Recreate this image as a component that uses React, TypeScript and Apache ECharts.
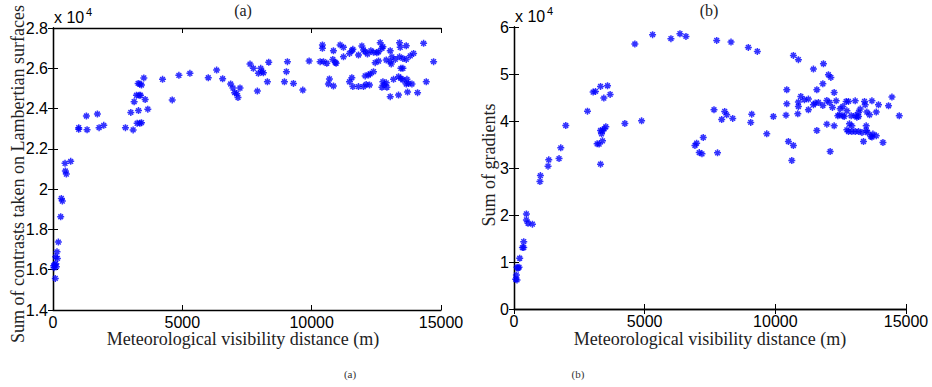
import React, { useEffect, useRef } from "react";
import * as echarts from "echarts";

// Panel (a): sum of contrasts (x 10^4) vs visibility distance (m)
const contrastPoints: number[][] = [
  [26,1.62],[40,1.61],[65,1.625],[90,1.557],[103,1.664],[110,1.63],[130,1.615],[155,1.689],[170,1.656],[207,1.737],
  [297,1.863],[323,1.954],[361,1.941],[465,2.128],[478,2.09],[516,2.075],[684,2.138],[994,2.305],[994,2.297],[1291,2.363],
  [1317,2.295],[1717,2.373],[1782,2.305],[1962,2.317],[2801,2.305],[3008,2.381],[3098,2.294],[3137,2.434],[3227,2.466],[3331,2.466],
  [3383,2.466],[3292,2.525],[3357,2.522],[3421,2.517],[3305,2.39],[3253,2.327],[3357,2.327],[3421,2.33],[3511,2.552],[3563,2.445],
  [3666,2.397],[4235,2.545],[4609,2.443],[4867,2.565],[5293,2.575],[6003,2.553],[6326,2.591],[6558,2.548],[6868,2.522],[6958,2.502],
  [7023,2.479],[7100,2.474],[7152,2.455],[7230,2.502],[7617,2.621],[7746,2.6],[7901,2.487],[7940,2.575],[8030,2.6],[8069,2.583],
  [8134,2.578],[8289,2.533],[8340,2.63],[8947,2.533],[9024,2.583],[9063,2.633],[9296,2.525],[9657,2.492],[9902,2.636],
  [10416,2.716],[10416,2.699],[10842,2.687],[11101,2.716],[11230,2.704],[11553,2.687],[11462,2.674],[11592,2.694],[11941,2.711],[12004,2.691],
  [12069,2.682],[11810,2.666],[12158,2.671],[12288,2.687],[12391,2.679],[12520,2.677],[12585,2.682],[12650,2.727],[12716,2.699],[12754,2.707],
  [13037,2.687],[13397,2.727],[13424,2.704],[13657,2.712],[14327,2.724],[13812,2.662],[13940,2.674],[13397,2.657],[13527,2.649],[13657,2.644],
  [13102,2.657],[13230,2.644],[12883,2.641],[13037,2.633],[12456,2.628],[12585,2.636],[14714,2.633],[10327,2.633],[10455,2.633],[10584,2.625],
  [10817,2.644],[10907,2.63],[10945,2.625],[11230,2.657],[13076,2.621],[13450,2.6],[13527,2.6],[12391,2.583],[12069,2.562],[12197,2.567],
  [12262,2.572],[10687,2.547],[10648,2.522],[10842,2.512],[11553,2.553],[11462,2.533],[11592,2.509],[11810,2.509],[12004,2.509],[12107,2.52],
  [12236,2.517],[12754,2.533],[12883,2.528],[12805,2.517],[12716,2.506],[12909,2.506],[13165,2.545],[13358,2.558],[13450,2.55],[13527,2.542],
  [13683,2.545],[13746,2.525],[13657,2.522],[13877,2.522],[14431,2.533],[13037,2.459],[13358,2.467],[13707,2.482],[14094,2.479],
];

// Panel (b): sum of gradients (x 10^4) vs visibility distance (m)
const gradientPoints: number[][] = [
  [65,0.633],[115,0.618],[92,0.724],[153,0.867],[115,0.888],[192,0.888],[218,1.08],[322,1.306],[372,1.306],[372,1.433],
  [475,2.023],[475,1.896],[537,1.825],[705,1.804],[992,2.711],[1011,2.839],[1303,3.039],[1330,3.174],[1724,3.201],[1790,3.429],
  [1981,3.904],[2812,4.21],[3028,4.615],[3118,4.629],[3311,4.735],[3579,4.75],[3438,4.487],[3679,4.565],[3181,3.514],[3257,3.508],
  [3387,3.578],[3311,3.082],[3349,3.727],[3387,3.791],[3449,3.834],[3514,3.877],[3311,3.798],[4242,3.947],[4882,4.004],[4625,5.638],
  [5303,5.836],[6005,5.751],[6350,5.857],[6580,5.8],[7756,5.715],[8304,5.68],[8967,5.566],[9312,5.481],[7653,4.239],[8062,4.203],
  [8139,4.132],[7947,4.032],[8369,4.054],[9097,4.146],[9059,3.969],[9672,3.727],[7242,3.649],[6989,3.529],[6924,3.479],[7089,3.329],
  [7193,3.301],[7788,3.323],[9925,4.096],
  [10691,5.395],[10883,5.304],[11458,5.105],[11841,5.218],[12033,4.984],[12125,4.927],[11818,4.792],[10438,4.665],[11588,4.665],[12251,4.607],
  [10975,4.522],[11113,4.452],[11266,4.467],[10883,4.403],[10438,4.366],[10883,4.309],[11458,4.345],[11523,4.381],[11649,4.394],[11818,4.33],
  [11971,4.437],[12071,4.394],[12328,4.43],[12711,4.416],[12799,4.416],[13056,4.43],[13412,4.416],[13439,4.345],[13696,4.43],[13948,4.345],
  [14462,4.509],[14332,4.324],[12186,4.288],[12585,4.309],[12481,4.26],[11266,4.239],[12738,4.217],[13247,4.253],[13184,4.181],[13503,4.189],
  [13605,4.132],[13862,4.189],[12392,4.111],[12454,4.132],[12585,4.111],[12634,4.096],[12902,4.111],[13120,4.082],[13056,4.111],[13184,4.096],
  [10409,4.125],[10860,4.153],[11971,3.933],[12251,3.898],[12837,3.94],[12929,3.898],[13477,3.898],[11588,3.798],[12738,3.813],[12799,3.777],
  [12929,3.777],[13056,3.777],[13184,3.777],[13314,3.755],[13528,3.755],[13477,3.798],[13734,3.721],[13696,3.657],[13862,3.685],[13656,3.67],
  [10500,3.564],[10691,3.479],[13374,3.564],[14118,3.543],[10630,3.159],[12098,3.351],[14742,4.111],
];

const xTicks = { min: 0, max: 15000, interval: 5000 };
const contrastTicks = { min: 1.4, max: 2.8, interval: 0.2 };
const gradientTicks = { min: 0, max: 6, interval: 1 };

const panelTitles = ["(a)", "(b)"];
const xTitle = "Meteorological visibility distance (m)";
const yTitles = ["Sum of contrasts taken on Lambertian surfaces", "Sum of gradients"];
const exponentBase = "x 10";
const exponentPower = "4";

const SANS = "'Liberation Sans', Arial, Helvetica, sans-serif";
const SERIF = "'Liberation Serif', 'Times New Roman', serif";
const ASTERISK = "path://M5 0L5 10M0 5L10 5M1.6 1.6L8.4 8.4M1.6 8.4L8.4 1.6";

const fmt = (v: number) => String(Number(v.toFixed(1)));

function axisPair(gridIndex: number, dim: "x" | "y", t: { min: number; max: number; interval: number }) {
  const line = { show: true, lineStyle: { color: "#000", width: 1.3 } };
  const base = {
    gridIndex,
    type: "value" as const,
    min: t.min,
    max: t.max,
    interval: t.interval,
    splitLine: { show: false },
    axisLine: line,
    axisTick: { show: true, inside: true, length: 5, lineStyle: { color: "#000", width: 1 } },
  };
  const main = {
    ...base,
    position: dim === "x" ? "bottom" : "left",
    axisLabel: {
      show: true,
      color: "#000",
      fontFamily: SANS,
      fontSize: 16,
      margin: dim === "x" ? 4 : 5,
      formatter: (v: number) => fmt(v),
    },
  };
  const mirror = {
    ...base,
    position: dim === "x" ? "top" : "right",
    axisLabel: { show: false },
  };
  return [main, mirror];
}

export default function App() {
  const ref = useRef<HTMLDivElement>(null);
  useEffect(() => {
    if (!ref.current) return;
    const chart = echarts.init(ref.current, null, { renderer: "svg" });
    const grids = [
      { left: 53, top: 28, width: 388, height: 282 },
      { left: 514, top: 27, width: 392, height: 282 },
    ];
    const scatterStyle = {
      symbol: ASTERISK,
      symbolSize: 7,
      itemStyle: { color: "#0000ff", borderColor: "#0000ff", borderWidth: 1.5 },
    };
    const titleFont = `18px ${SERIF}`;
    const option: any = {
      animation: false,
      backgroundColor: "#fff",
      grid: grids,
      xAxis: [...axisPair(0, "x", xTicks), ...axisPair(1, "x", xTicks)],
      yAxis: [...axisPair(0, "y", contrastTicks), ...axisPair(1, "y", gradientTicks)],
      series: [
        { type: "scatter", xAxisIndex: 0, yAxisIndex: 0, data: contrastPoints, ...scatterStyle },
        { type: "scatter", xAxisIndex: 2, yAxisIndex: 2, data: gradientPoints, ...scatterStyle },
      ],
      graphic: [
        // panel titles
        { type: "text", x: 243, y: 10, style: { text: panelTitles[0], font: `16px ${SERIF}`, fill: "#222", textAlign: "center", textVerticalAlign: "middle" } },
        { type: "text", x: 709, y: 10, style: { text: panelTitles[1], font: `16px ${SERIF}`, fill: "#222", textAlign: "center", textVerticalAlign: "middle" } },
        // exponent labels
        { type: "text", x: 54, y: 25, style: { text: exponentBase, font: `16px ${SANS}`, fill: "#000", textVerticalAlign: "bottom" } },
        { type: "text", x: 86, y: 17, style: { text: exponentPower, font: `11px ${SANS}`, fill: "#000", textVerticalAlign: "bottom" } },
        { type: "text", x: 515, y: 24, style: { text: exponentBase, font: `16px ${SANS}`, fill: "#000", textVerticalAlign: "bottom" } },
        { type: "text", x: 547, y: 16, style: { text: exponentPower, font: `11px ${SANS}`, fill: "#000", textVerticalAlign: "bottom" } },
        // x titles
        { type: "text", x: 243, y: 339, style: { text: xTitle, font: titleFont, fill: "#222", textAlign: "center", textVerticalAlign: "middle" } },
        { type: "text", x: 710, y: 339, style: { text: xTitle, font: titleFont, fill: "#222", textAlign: "center", textVerticalAlign: "middle" } },
        // y titles
        { type: "text", x: 18, y: 174, rotation: Math.PI / 2, style: { text: yTitles[0], font: titleFont, fill: "#222", textAlign: "center", textVerticalAlign: "middle" } },
        { type: "text", x: 489, y: 165, rotation: Math.PI / 2, style: { text: yTitles[1], font: titleFont, fill: "#222", textAlign: "center", textVerticalAlign: "middle" } },
        // captions
        { type: "text", x: 350, y: 374, style: { text: panelTitles[0], font: `11px ${SERIF}`, fill: "#333", textAlign: "center", textVerticalAlign: "middle" } },
        { type: "text", x: 578, y: 374, style: { text: panelTitles[1], font: `11px ${SERIF}`, fill: "#333", textAlign: "center", textVerticalAlign: "middle" } },
      ],
    };
    chart.setOption(option);
    return () => chart.dispose();
  }, []);
  return (
    <div
      ref={ref}
      style={{ position: "fixed", left: 0, top: 0, width: 932, height: 387, background: "#fff" }}
    />
  );
}
